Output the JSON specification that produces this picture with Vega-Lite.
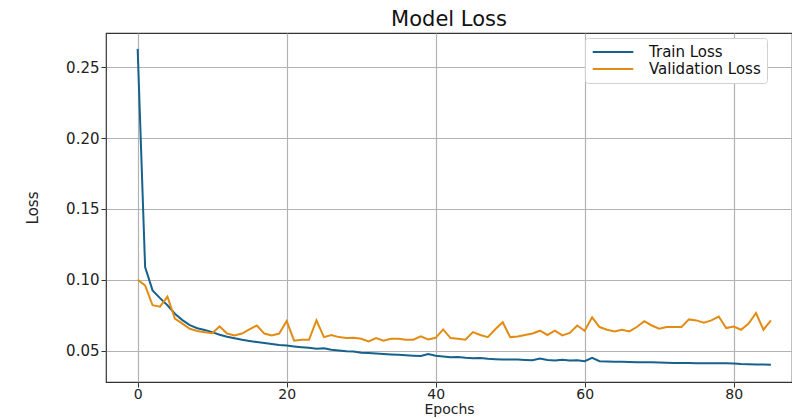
{
  "$schema": "https://vega.github.io/schema/vega-lite/v6.json",
  "autosize": {"type": "none"},
  "width": 686,
  "height": 349,
  "padding": {"left": 106, "top": 33, "right": 0, "bottom": 37},
  "background": "white",
  "title": {"text": "Model Loss", "font": "DejaVu Sans", "fontSize": 21, "fontWeight": "normal", "color": "#111", "anchor": "middle", "offset": 3},
  "config": {
    "view": {"stroke": "#333", "strokeWidth": 1.2},
    "axis": {"domain": false, "grid": true, "gridColor": "#b3b3b3", "gridWidth": 1.2, "tickColor": "#333", "tickSize": 5, "labelFont": "DejaVu Sans", "labelFontSize": 15, "labelColor": "#222", "titleFont": "DejaVu Sans", "titleFontSize": 15, "titleFontWeight": "normal", "titleColor": "#222"}
  },
  "data": {"values": [
    {"epoch":0,"Train Loss":0.263,"Validation Loss":0.100},
    {"epoch":1,"Train Loss":0.109,"Validation Loss":0.096},
    {"epoch":2,"Train Loss":0.0925,"Validation Loss":0.082},
    {"epoch":3,"Train Loss":0.087,"Validation Loss":0.081},
    {"epoch":4,"Train Loss":0.082,"Validation Loss":0.088},
    {"epoch":5,"Train Loss":0.076,"Validation Loss":0.0725},
    {"epoch":6,"Train Loss":0.0715,"Validation Loss":0.069},
    {"epoch":7,"Train Loss":0.068,"Validation Loss":0.0654},
    {"epoch":8,"Train Loss":0.0658,"Validation Loss":0.0638},
    {"epoch":9,"Train Loss":0.0645,"Validation Loss":0.063},
    {"epoch":10,"Train Loss":0.063,"Validation Loss":0.0623},
    {"epoch":11,"Train Loss":0.0612,"Validation Loss":0.067},
    {"epoch":12,"Train Loss":0.0598,"Validation Loss":0.062},
    {"epoch":13,"Train Loss":0.0587,"Validation Loss":0.0607},
    {"epoch":14,"Train Loss":0.0577,"Validation Loss":0.062},
    {"epoch":15,"Train Loss":0.0568,"Validation Loss":0.065},
    {"epoch":16,"Train Loss":0.056,"Validation Loss":0.0677},
    {"epoch":17,"Train Loss":0.0553,"Validation Loss":0.062},
    {"epoch":18,"Train Loss":0.0547,"Validation Loss":0.0607},
    {"epoch":19,"Train Loss":0.054,"Validation Loss":0.062},
    {"epoch":20,"Train Loss":0.0535,"Validation Loss":0.0708},
    {"epoch":21,"Train Loss":0.0529,"Validation Loss":0.057},
    {"epoch":22,"Train Loss":0.0524,"Validation Loss":0.0576},
    {"epoch":23,"Train Loss":0.052,"Validation Loss":0.0576},
    {"epoch":24,"Train Loss":0.0513,"Validation Loss":0.0713},
    {"epoch":25,"Train Loss":0.0516,"Validation Loss":0.0595},
    {"epoch":26,"Train Loss":0.0506,"Validation Loss":0.061},
    {"epoch":27,"Train Loss":0.0501,"Validation Loss":0.0595},
    {"epoch":28,"Train Loss":0.0495,"Validation Loss":0.0588},
    {"epoch":29,"Train Loss":0.0494,"Validation Loss":0.059},
    {"epoch":30,"Train Loss":0.0485,"Validation Loss":0.0583},
    {"epoch":31,"Train Loss":0.0483,"Validation Loss":0.0564},
    {"epoch":32,"Train Loss":0.0479,"Validation Loss":0.0588},
    {"epoch":33,"Train Loss":0.0476,"Validation Loss":0.057},
    {"epoch":34,"Train Loss":0.0473,"Validation Loss":0.0583},
    {"epoch":35,"Train Loss":0.047,"Validation Loss":0.0583},
    {"epoch":36,"Train Loss":0.0467,"Validation Loss":0.0577},
    {"epoch":37,"Train Loss":0.0464,"Validation Loss":0.0577},
    {"epoch":38,"Train Loss":0.0461,"Validation Loss":0.060},
    {"epoch":39,"Train Loss":0.0476,"Validation Loss":0.0578},
    {"epoch":40,"Train Loss":0.0463,"Validation Loss":0.059},
    {"epoch":41,"Train Loss":0.0458,"Validation Loss":0.0649},
    {"epoch":42,"Train Loss":0.0453,"Validation Loss":0.0588},
    {"epoch":43,"Train Loss":0.0455,"Validation Loss":0.0583},
    {"epoch":44,"Train Loss":0.0449,"Validation Loss":0.0577},
    {"epoch":45,"Train Loss":0.0446,"Validation Loss":0.063},
    {"epoch":46,"Train Loss":0.0447,"Validation Loss":0.061},
    {"epoch":47,"Train Loss":0.0442,"Validation Loss":0.0595},
    {"epoch":48,"Train Loss":0.0439,"Validation Loss":0.065},
    {"epoch":49,"Train Loss":0.0437,"Validation Loss":0.070},
    {"epoch":50,"Train Loss":0.0436,"Validation Loss":0.0595},
    {"epoch":51,"Train Loss":0.0436,"Validation Loss":0.060},
    {"epoch":52,"Train Loss":0.0434,"Validation Loss":0.061},
    {"epoch":53,"Train Loss":0.0431,"Validation Loss":0.062},
    {"epoch":54,"Train Loss":0.0444,"Validation Loss":0.064},
    {"epoch":55,"Train Loss":0.0433,"Validation Loss":0.061},
    {"epoch":56,"Train Loss":0.043,"Validation Loss":0.064},
    {"epoch":57,"Train Loss":0.0435,"Validation Loss":0.0607},
    {"epoch":58,"Train Loss":0.0429,"Validation Loss":0.0625},
    {"epoch":59,"Train Loss":0.0431,"Validation Loss":0.0677},
    {"epoch":60,"Train Loss":0.0425,"Validation Loss":0.064},
    {"epoch":61,"Train Loss":0.0448,"Validation Loss":0.0735},
    {"epoch":62,"Train Loss":0.0425,"Validation Loss":0.0666},
    {"epoch":63,"Train Loss":0.0423,"Validation Loss":0.0647},
    {"epoch":64,"Train Loss":0.0421,"Validation Loss":0.0635},
    {"epoch":65,"Train Loss":0.0421,"Validation Loss":0.0647},
    {"epoch":66,"Train Loss":0.042,"Validation Loss":0.0635},
    {"epoch":67,"Train Loss":0.0418,"Validation Loss":0.0666},
    {"epoch":68,"Train Loss":0.0418,"Validation Loss":0.0708},
    {"epoch":69,"Train Loss":0.0417,"Validation Loss":0.0677},
    {"epoch":70,"Train Loss":0.0416,"Validation Loss":0.0654},
    {"epoch":71,"Train Loss":0.0414,"Validation Loss":0.0666},
    {"epoch":72,"Train Loss":0.0412,"Validation Loss":0.0666},
    {"epoch":73,"Train Loss":0.0412,"Validation Loss":0.0666},
    {"epoch":74,"Train Loss":0.0412,"Validation Loss":0.072},
    {"epoch":75,"Train Loss":0.0411,"Validation Loss":0.0713},
    {"epoch":76,"Train Loss":0.041,"Validation Loss":0.0697},
    {"epoch":77,"Train Loss":0.041,"Validation Loss":0.0713},
    {"epoch":78,"Train Loss":0.041,"Validation Loss":0.074},
    {"epoch":79,"Train Loss":0.041,"Validation Loss":0.0659},
    {"epoch":80,"Train Loss":0.0409,"Validation Loss":0.067},
    {"epoch":81,"Train Loss":0.0405,"Validation Loss":0.0647},
    {"epoch":82,"Train Loss":0.0403,"Validation Loss":0.069},
    {"epoch":83,"Train Loss":0.0402,"Validation Loss":0.0765},
    {"epoch":84,"Train Loss":0.0402,"Validation Loss":0.0647},
    {"epoch":85,"Train Loss":0.040,"Validation Loss":0.0713}
  ]},
  "transform": [{"fold": ["Train Loss", "Validation Loss"], "as": ["series", "loss"]}],
  "mark": {"type": "line", "strokeWidth": 2, "clip": true},
  "encoding": {
    "x": {"field": "epoch", "type": "quantitative",
      "scale": {"domain": [-4.25, 87.83], "nice": false, "zero": false},
      "axis": {"values": [0, 20, 40, 60, 80], "title": "Epochs", "labelFontSize": 14, "labelPadding": 0, "titleFontSize": 14, "titlePadding": 1}},
    "y": {"field": "loss", "type": "quantitative",
      "scale": {"domain": [0.0278, 0.2742], "nice": false, "zero": false},
      "axis": {"values": [0.05, 0.10, 0.15, 0.20, 0.25], "format": ".2f", "title": "Loss", "labelPadding": 2, "titlePadding": 25}},
    "color": {"field": "series", "type": "nominal",
      "scale": {"domain": ["Train Loss", "Validation Loss"], "range": ["#16628c", "#e38c14"]},
      "legend": {"title": null, "orient": "none", "legendX": 479, "legendY": 5, "fillColor": "white", "strokeColor": "#d0d0d0", "cornerRadius": 3, "padding": 6, "symbolType": "M-2.9,0H2.9", "symbolSize": 196, "symbolOffset": 14, "symbolStrokeWidth": 2, "labelFont": "DejaVu Sans", "labelFontSize": 15, "labelColor": "#111", "rowPadding": 1, "labelOffset": 28}}
  }
}
